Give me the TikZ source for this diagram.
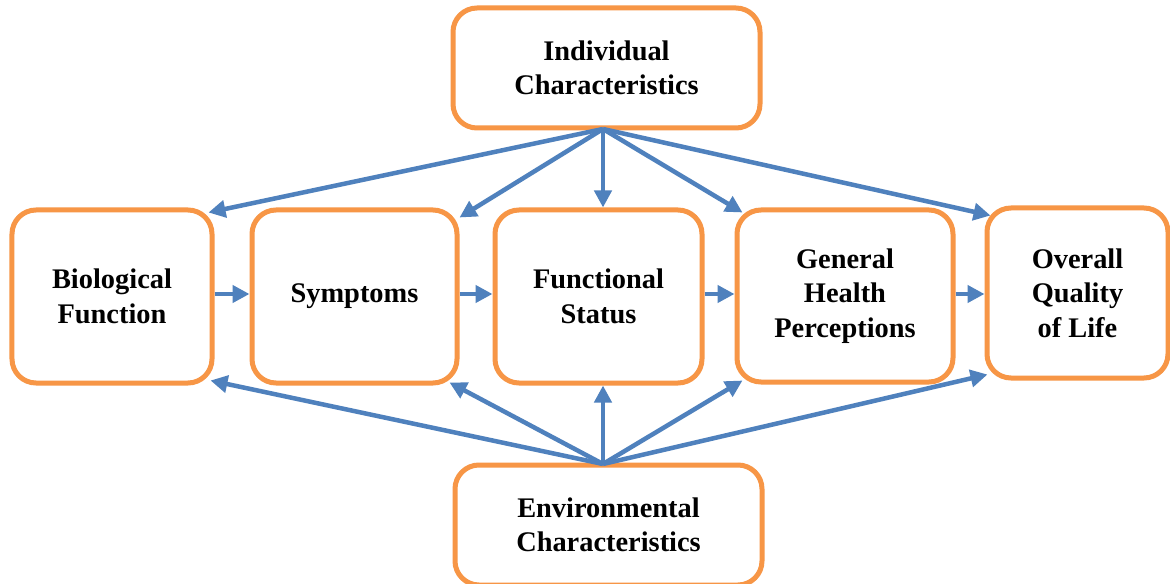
\documentclass[tikz,border=0pt]{standalone}
\usepackage{fontspec}
\setmainfont{Liberation Serif}
\usetikzlibrary{arrows.meta}
\definecolor{boxorange}{RGB}{247,150,70}
\definecolor{arrowblue}{RGB}{79,129,189}
\begin{document}
\begin{tikzpicture}[x=1bp,y=-1bp,
  box/.style={draw=boxorange, line width=5bp, rounded corners=24bp, fill=white,
    align=center, font=\bfseries\fontsize{28.5}{34.5}\selectfont, inner sep=0pt},
  arr/.style={draw=arrowblue, line width=4.5bp, -{Triangle[length=17bp,width=17bp]}}]
\useasboundingbox (0,0) rectangle (1170,584);
\clip (0,0) rectangle (1170,584);
\fill[white] (0,0) rectangle (1170,584);
\node[box, minimum width=307bp, minimum height=120bp] (ind) at (606.5,68) {Individual\\Characteristics};
\node[box, minimum width=200bp, minimum height=173bp] (bio) at (112,296.5) {Biological\\Function};
\node[box, minimum width=205bp, minimum height=173bp] (sym) at (354.5,296.5) {Symptoms};
\node[box, minimum width=207bp, minimum height=173bp] (fun) at (598.5,296.5) {Functional\\Status};
\node[box, minimum width=216bp, minimum height=172bp] (gen) at (845,296) {General\\Health\\Perceptions};
\node[box, minimum width=181bp, minimum height=170bp] (ovr) at (1077.5,293) {Overall\\Quality\\of Life};
\node[box, minimum width=307bp, minimum height=120bp] (env) at (608.5,525) {Environmental\\Characteristics};
% top arrows
\coordinate (is) at (603,129);
\draw[arr] (is) -- ([shift={(-6,5)}]bio.north east);
\draw[arr] (is) -- ([shift={(0,10)}]sym.north east);
\draw[arr] (is) -- (fun.north -| is);
\draw[arr] (is) -- ([shift={(8,5)}]gen.north west);
\draw[arr] (is) -- ([shift={(6,10)}]ovr.north west);
% bottom arrows
\coordinate (es) at (603,464);
\draw[arr] (es) -- ([shift={(-4,-5)}]bio.south east);
\draw[arr] (es) -- ([shift={(-10,-3)}]sym.south east);
\draw[arr] (es) -- (fun.south -| es);
\draw[arr] (es) -- ([shift={(8,-4)}]gen.south west);
\draw[arr] (es) -- ([shift={(3,-6)}]ovr.south west);
% horizontal arrows
\draw[arr] (bio.east |- 0,294) -- (sym.west |- 0,294);
\draw[arr] (sym.east |- 0,294) -- (fun.west |- 0,294);
\draw[arr] (fun.east |- 0,294) -- (gen.west |- 0,294);
\draw[arr] (gen.east |- 0,294) -- (ovr.west |- 0,294);
\end{tikzpicture}
\end{document}
